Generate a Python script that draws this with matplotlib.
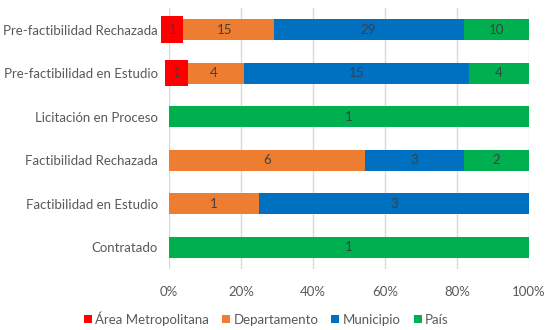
import numpy as np
import matplotlib.pyplot as plt

categorias = ["Pre-factibilidad Rechazada", "Pre-factibilidad en Estudio",
              "Licitación en Proceso", "Factibilidad Rechazada",
              "Factibilidad en Estudio", "Contratado"]
series = ["Área Metropolitana", "Departamento", "Municipio", "País"]
area_metro = [1, 1, 0, 0, 0, 0]
departamento = [15, 4, 0, 6, 1, 0]
municipio = [29, 15, 0, 3, 3, 0]
pais = [10, 4, 1, 2, 0, 1]
colores = ["#FF0000", "#ED7D31", "#0070C0", "#00B050"]

plt.rcParams['font.family'] = ['Lato', 'DejaVu Sans']

datos = np.array([area_metro, departamento, municipio, pais], dtype=float)
totales = datos.sum(axis=0)
pct = datos / totales

fig = plt.figure(figsize=(5.51, 3.3), dpi=100)
ax = fig.add_axes([0.3067, 0.185, 0.6533, 0.791])

y = np.arange(len(categorias))
izq = np.zeros(len(categorias))
for i, nombre in enumerate(series):
    ax.barh(y, pct[i], left=izq, height=0.48, color=colores[i], label=nombre, zorder=3)
    for j in range(len(categorias)):
        if datos[i, j] > 0:
            cx = izq[j] + pct[i, j] / 2
            if i == 0:
                ax.text(cx, y[j], f"{int(datos[i, j])}", ha="center", va="center",
                        fontsize=9.5, color="#404040", zorder=5,
                        bbox=dict(facecolor="#FF0000", edgecolor="none",
                                  boxstyle="square,pad=0.55"))
            else:
                ax.text(cx, y[j], f"{int(datos[i, j])}", ha="center", va="center",
                        fontsize=9.5, color="#404040", zorder=5)
    izq += pct[i]

ax.set_ylim(len(categorias) - 0.5, -0.5)
ax.set_xlim(0, 1)
ax.set_yticks(y)
ax.set_yticklabels(categorias)
ax.set_xticks(np.linspace(0, 1, 6))
ax.set_xticklabels([f"{int(v)}%" for v in np.linspace(0, 100, 6)])
ax.tick_params(axis="both", length=0, labelsize=9.5, colors="#595959")
ax.tick_params(axis="x", pad=12)
ax.tick_params(axis="y", pad=8)
ax.grid(axis="x", color="#D9D9D9", linewidth=1, zorder=0)
for s in ax.spines.values():
    s.set_visible(False)

ax.legend(loc="center", bbox_to_anchor=(0.27, -0.19), ncol=4, frameon=False,
          fontsize=9.5, handlelength=0.6, handleheight=0.6, handletextpad=0.25,
          columnspacing=1.0, labelcolor="#595959")

fig.savefig("out.png", dpi=100)
